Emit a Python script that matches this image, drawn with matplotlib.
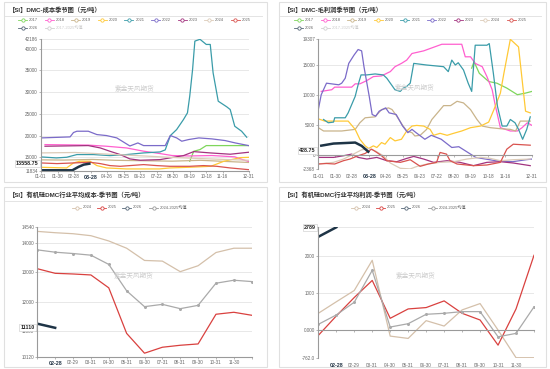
import matplotlib
matplotlib.use("Agg")
import matplotlib.pyplot as plt
from matplotlib.lines import Line2D
from matplotlib.patches import Rectangle

plt.rcParams['font.family'] = ['Liberation Sans', 'Noto Sans CJK SC']

W, H = 550, 369

# ---- top panels: x = day of season (0 = 01-01, 365 = 12-31) ----
day_ticks = [0, 29, 58, 87, 116, 145, 174, 203, 232, 261, 290, 319, 365]
day_labels = ['01-01', '01-30', '02-28', '03-28', '04-26', '05-25', '06-23',
              '07-22', '08-20', '09-19', '10-18', '11-16', '12-31']

# DMC cost
cost_2017_x = [261, 268, 279, 290, 365]
cost_2017_y = [14080, 16380, 16770, 17690, 17690]
cost_2018_x = [7, 51, 83, 115, 150, 180, 209, 230, 260, 300, 340, 355, 365]
cost_2018_y = [17920, 17850, 17800, 17540, 17150, 16400, 15850, 15400, 15300, 15400, 15100, 14400, 14000]
cost_2019_x = [0, 40, 90, 130, 180, 230, 280, 330, 365]
cost_2019_y = [14400, 14350, 14500, 14300, 14200, 14100, 14300, 14000, 13800]
cost_2020_x = [0, 45, 57, 68, 86, 98, 115, 150, 208, 226, 261, 298, 321, 350, 365]
cost_2020_y = [12690, 12540, 13690, 14080, 14080, 13080, 12540, 12310, 12310, 12540, 12700, 12920, 14080, 14920, 14990]
cost_2021_x = [0, 27, 45, 63, 92, 121, 150, 180, 209, 218, 227, 238, 250, 257, 261, 266,
               270, 279, 290, 297, 302, 311, 326, 332, 340, 352, 361]
cost_2021_y = [15080, 14850, 15000, 15620, 15620, 15380, 15620, 16000, 16230, 16700, 20000, 21380, 23690, 25230, 29080, 35230,
               41770, 42186, 41000, 41000, 34460, 27920, 26620, 26000, 22150, 21000, 19620]
cost_2022_x = [0, 51, 57, 63, 83, 98, 115, 133, 156, 170, 180, 218, 227, 238, 247, 259, 277, 300, 323, 341, 364]
cost_2022_y = [19460, 19690, 20700, 21000, 21000, 20230, 20000, 19460, 17600, 18300, 17690, 17690, 20000, 19460, 18700, 19080, 19460, 19230, 18850, 18300, 17700]
cost_2023_x = [7, 83, 104, 121, 139, 156, 174, 209, 226, 250, 268, 297, 332, 364]
cost_2023_y = [17540, 17690, 17150, 16380, 15620, 14620, 14310, 14460, 14850, 15380, 16300, 16000, 15700, 16150]
cost_2024_x = [0, 60, 120, 180, 240, 300, 365]
cost_2024_y = [16000, 16100, 15700, 15300, 14900, 14600, 14300]
cost_2025_x = [0, 28, 57, 86, 104, 121, 139, 156, 180, 203, 226, 261, 285, 308, 332, 364]
cost_2025_y = [13690, 13540, 13690, 13850, 13540, 13080, 12920, 13080, 13310, 13080, 12920, 12920, 13080, 12920, 12540, 12150]
cost_2026_x = [0, 55, 66, 75, 87]
cost_2026_y = [12000, 12000, 12800, 13300, 13558.75]

# DMC gross profit
gp_2017_x = [262, 266, 275, 291, 305, 322, 340, 354, 365]
gp_2017_y = [14500, 15570, 13640, 12270, 11990, 11170, 10070, 10340, 10620]
gp_2018_x = [5, 23, 28, 57, 63, 71, 83, 94, 108, 117, 123, 131, 142, 151, 160, 180, 191, 211, 231, 245,
             251, 260, 268, 280, 288, 297, 302, 311, 328, 340, 348, 357, 365]
gp_2018_y = [10620, 10900, 11330, 11330, 11880, 11880, 12430, 13090, 13200, 13640, 13920, 14740, 15290, 15840, 16940, 17380, 17770, 18480, 18480, 18480,
             16390, 16390, 15290, 14740, 13090, 10890, 8420, 4570, 4020, 4020, 4570, 5390, 4950]
gp_2019_x = [0, 9, 40, 63, 71, 80, 97, 108, 120, 126, 134, 143, 151, 160, 165, 174, 185, 194, 206, 214,
             226, 237, 248, 260, 271, 280, 294, 311, 328, 337, 345, 362]
gp_2019_y = [4570, 4020, 4020, 4290, 5390, 6220, 6380, 7590, 7870, 7590, 6490, 5120, 4020, 3740, 3190, 3300, 4290, 5940, 7320, 8250,
             8250, 8970, 8700, 7590, 5940, 4840, 4570, 4400, 4290, 4020, 5670, 5670]
gp_2020_x = [0, 11, 40, 51, 63, 71, 80, 86, 94, 100, 108, 114, 123, 131, 142, 151, 160, 168, 180, 191,
             197, 208, 220, 231, 245, 260, 277, 291, 300, 311, 317, 328, 342, 354, 362]
gp_2020_y = [6050, 5670, 5670, 5670, 4290, 2640, 1540, 1100, 1540, 1270, 2090, 1820, 2920, 2370, 2640, 4020, 4840, 4950, 4840, 4290,
             3300, 3630, 3300, 3630, 4020, 4570, 4840, 5500, 7590, 10340, 13640, 19307, 18040, 7320, 7040]
gp_2021_x = [9, 17, 26, 28, 46, 51, 63, 68, 73, 83, 97, 111, 117, 123, 131, 140, 145, 151, 157, 163, 185,
             214, 222, 228, 234, 239, 248, 256, 262, 268, 288, 292, 299, 306, 314, 322, 328, 336, 342, 349, 356, 362]
gp_2021_y = [5940, 5390, 5500, 6220, 6220, 7040, 9790, 11720, 13370, 13370, 13530, 13370, 12820, 11990, 10890, 10620, 11170, 11450, 11990, 15290, 15020,
             14740, 13920, 15840, 15020, 15400, 14190, 11990, 10620, 18320, 18320, 18590, 13640, 8140, 4840, 4840, 5940, 5390, 4290, 2640, 4290, 6380]
gp_2022_x = [0, 5, 14, 35, 40, 46, 52, 61, 68, 74, 78, 87, 92, 98, 104, 115, 121, 133, 144, 153, 160,
             167, 182, 193, 210, 228, 240, 251, 269, 303, 332, 355, 365]
gp_2022_y = [7590, 10070, 11990, 11720, 11990, 12820, 15290, 16670, 17600, 17380, 14740, 9790, 6770, 6490, 7320, 7870, 7040, 6770, 4840, 3740, 4290,
             3740, 2640, 3300, 2640, 1270, 1400, 720, -390, -940, -1100, -770, -660]
gp_2023_x = [0, 26, 43, 57, 68, 83, 100, 117, 134, 151, 163, 180, 197, 220, 242, 265, 288, 311, 333, 362]
gp_2023_y = [-385, -385, -110, 165, -385, -660, -385, -935, -1100, -550, -220, -660, -1210, -935, -1210, -1760, -1210, -1100, -1320, -1760]
gp_2024_x = [0, 26, 43, 60, 74, 86, 97, 111, 123, 140, 157, 169, 186, 208, 231, 254, 277, 294, 311, 333, 362]
gp_2024_y = [-1485, -1210, -660, 165, 880, 1100, 715, -110, -1320, -2200, -2310, -1870, -1485, -1210, -1100, -660, -385, -550, -935, -770, -660]
gp_2025_x = [0, 14, 28, 43, 54, 68, 80, 91, 100, 108, 117, 140, 151, 157, 174, 188, 202, 208, 219, 225,
             237, 265, 288, 311, 322, 333, 362]
gp_2025_y = [-1485, -1400, -1485, -935, -660, -110, 275, 990, 440, -110, -935, -1210, -935, -770, -1870, -1485, -1210, 440, 165, -935,
             -1485, -1760, -1650, -1210, 990, 1815, 1650]
gp_2026_x = [3, 26, 63, 74, 87]
gp_2026_y = [1540, 1925, 2090, 1540, 428.75]

# ---- bottom panels: monthly ----
months = ['01-31', '02-28', '02-29', '03-31', '04-30', '05-31', '06-30',
          '07-31', '08-31', '09-30', '10-31', '11-30', '12-31']
avgcost_2024 = [14381, 14336, 14302, 14235, 14056, 13810, 13395, 13373, 13015, 13216, 13664, 13810, 13810]
avgcost_2025 = [13115, 12959, 12936, 12903, 12466, 10921, 10249, 10451, 10518, 10563, 11570, 11637, 11536]
avgcost_mean = [13754, 13675, 13630, 13574, 13261, 12365, 11828, 11906, 11760, 11872, 12623, 12724, 12679]
avgcost_2026 = [11250, 11110]
avgprof_2024 = [447, 760, 1068, 1890, -174, -237, 247, 100, 539, 712, -9, -762, -762]
avgprof_2025 = [-155, 374, 877, 1342, 311, 566, 603, 785, 447, 265, -420, 566, 2027]
avgprof_mean = [146, 402, 749, 1616, 73, 164, 420, 447, 493, 493, -192, -100, 621]
avgprof_2026 = [2530, 2789]

colors = {'2017': '#7fd65c', '2018': '#ff5fcf', '2019': '#c9b48b', '2020': '#ffc936',
          '2021': '#3a9ca9', '2022': '#7b6bc9', '2023': '#a2337f', '2024': '#dccbb8',
          '2025': '#d9534f', '2026': '#1e3446'}

fig = plt.figure(figsize=(5.5, 3.69), dpi=100)


def fx(x):
    return x / W


def fy(y):
    return 1 - y / H


def panel(l, t, r, b, title):
    fig.add_artist(Rectangle((fx(l), fy(b)), (r - l) / W, (b - t) / H,
                             fill=False, ec='#e0e0e0', lw=0.8))
    fig.text(fx(l + 5), fy(t + 7.5), title, fontsize=4.5, fontweight='bold',
             color='#333333', va='center')
    fig.add_artist(Line2D([fx(l + 1), fx(r - 5)], [fy(t + 14)] * 2, color='#e4e4e4', lw=0.7))


def leg_item(x, y, col, lab, tcol='#666666'):
    fig.add_artist(Line2D([fx(x), fx(x + 9)], [fy(y)] * 2, color=col, lw=0.6))
    fig.add_artist(Line2D([fx(x + 4.5)], [fy(y)], marker='o', ms=2.4, mfc='white',
                          mec=col, mew=0.6))
    fig.text(fx(x + 11), fy(y), lab, fontsize=3, color=tcol, va='center')


def make_ax(l, t, r, b):
    ax = fig.add_axes([fx(l), fy(b), (r - l) / W, (b - t) / H])
    ax.set_facecolor('none')
    for s in ['top', 'right']:
        ax.spines[s].set_visible(False)
    for s in ['left', 'bottom']:
        ax.spines[s].set_color('#9a9a9a')
        ax.spines[s].set_linewidth(0.8)
    ax.tick_params(labelsize=3.3, labelcolor='#666666', color='#9a9a9a',
                   length=1.5, width=0.5, pad=0.8)
    ax.grid(axis='y', color='#e8e8e8', lw=0.7)
    ax.set_axisbelow(True)
    return ax


def y_pointer(ax, v, s, dy=0):
    ax.annotate(s, (-0.012, v), xycoords=ax.get_yaxis_transform(), xytext=(0, dy),
                textcoords='offset points', ha='right', va='center',
                fontsize=3.9, fontweight='bold', color='#222222', zorder=10,
                annotation_clip=False,
                bbox=dict(boxstyle='square,pad=0.2', fc='white', ec='#c8c8c8', lw=0.4))


def x_pointer(ax, x, s, y=-0.03):
    ax.text(x, y, s, transform=ax.get_xaxis_transform(), ha='center', va='top',
            fontsize=3.9, fontweight='bold', color='#223344', zorder=10, clip_on=False,
            bbox=dict(boxstyle='square,pad=0.2', fc='white', ec='none'))


def watermark(ax):
    ax.text(0.45, 0.62, '紫金天风期货', transform=ax.transAxes, fontsize=4.8,
            color='#cccccc', ha='center', va='center')


# panels and titles
panel(4, 2, 267, 182, '【SI】DMC-成本季节图（元/吨）')
panel(279, 2, 546, 182, '【SI】DMC-毛利润季节图（元/吨）')
panel(4, 187, 267, 367, '【SI】有机硅DMC行业平均成本-季节图（元/吨）')
panel(279, 187, 546, 367, '【SI】有机硅DMC行业平均利润-季节图（元/吨）')

years = ['2017', '2018', '2019', '2020', '2021', '2022', '2023', '2024', '2025']
for x0 in (18, 294):
    for i, yr in enumerate(years):
        leg_item(x0 + i * 26.6, 20, colors[yr], yr)
    leg_item(x0, 28.3, '#556677', '2026')
    leg_item(x0 + 26.6, 28.3, '#d0d0d0', '2017-2025均值', tcol='#cccccc')

for x0 in (72, 351):
    leg_item(x0, 207.5, '#d4c0aa', '2024')
    leg_item(x0 + 25, 207.5, '#d9413f', '2025')
    leg_item(x0 + 50, 207.5, '#556677', '2026')
    leg_item(x0 + 77, 207.5, '#999999', '2024-2025均值')

# ---- top-left: cost ----
ax1 = make_ax(41, 39.3, 249, 171)
cost = {'2017': (cost_2017_x, cost_2017_y), '2018': (cost_2018_x, cost_2018_y),
        '2019': (cost_2019_x, cost_2019_y), '2020': (cost_2020_x, cost_2020_y),
        '2021': (cost_2021_x, cost_2021_y), '2022': (cost_2022_x, cost_2022_y),
        '2023': (cost_2023_x, cost_2023_y), '2024': (cost_2024_x, cost_2024_y),
        '2025': (cost_2025_x, cost_2025_y)}
for yr, (xs, ys) in cost.items():
    ax1.plot(xs, ys, color=colors[yr], lw=0.9)
ax1.plot(cost_2026_x, cost_2026_y, color=colors['2026'], lw=1.8, solid_capstyle='butt')
ax1.set_xlim(0, 365)
ax1.set_ylim(11834, 42186)
ax1.set_yticks([11834, 15000, 20000, 25000, 30000, 35000, 40000, 42186])
ax1.set_yticklabels(['11834', '15000', '20000', '25000', '30000', '35000', '40000', '42186'])
ax1.set_xticks(day_ticks)
ax1.set_xticklabels(day_labels)
watermark(ax1)
y_pointer(ax1, cost_2026_y[-1], '13558.75')
x_pointer(ax1, cost_2026_x[-1], '03-28')

# ---- top-right: gross profit ----
ax2 = make_ax(318.3, 39.3, 532, 169.3)
gp = {'2017': (gp_2017_x, gp_2017_y), '2018': (gp_2018_x, gp_2018_y),
      '2019': (gp_2019_x, gp_2019_y), '2020': (gp_2020_x, gp_2020_y),
      '2021': (gp_2021_x, gp_2021_y), '2022': (gp_2022_x, gp_2022_y),
      '2023': (gp_2023_x, gp_2023_y), '2024': (gp_2024_x, gp_2024_y),
      '2025': (gp_2025_x, gp_2025_y)}
for yr, (xs, ys) in gp.items():
    ax2.plot(xs, ys, color=colors[yr], lw=0.9)
ax2.plot(gp_2026_x, gp_2026_y, color=colors['2026'], lw=1.8, solid_capstyle='butt')
ax2.set_xlim(0, 365)
ax2.set_ylim(-2368, 19307)
ax2.set_yticks([-2368, 0, 5000, 10000, 15000, 19307])
ax2.set_yticklabels(['-2368', '0', '5000', '10000', '15000', '19307'])
ax2.spines['bottom'].set_position(('data', 0))
ax2.set_xticks(day_ticks)
ax2.tick_params(axis='x', labelbottom=False)
for x, lab in zip(day_ticks, day_labels):
    ax2.text(x, -0.035, lab, transform=ax2.get_xaxis_transform(), ha='center', va='top',
             fontsize=3.3, color='#666666', clip_on=False)
watermark(ax2)
# pointer box sits just above the "0" tick label, as in the source
y_pointer(ax2, gp_2026_y[-1], '428.75', dy=1.6)
x_pointer(ax2, gp_2026_x[-1], '03-28', y=-0.035)

# ---- bottom-left: industry average cost ----
idx = list(range(len(months)))
ax3 = make_ax(37.3, 226.7, 251.7, 357)
ax3.plot(idx, avgcost_2024, color='#d4c0aa', lw=0.9)
ax3.plot(idx, avgcost_2025, color='#d9413f', lw=0.9)
ax3.plot(idx, avgcost_mean, color='#aaaaaa', lw=0.9, marker='o', ms=1.2)
ax3.plot(idx[:len(avgcost_2026)], avgcost_2026, color=colors['2026'], lw=1.8)
ax3.set_xlim(0, 12)
ax3.set_ylim(10120, 14540)
ax3.set_yticks([10120, 11000, 12000, 13000, 14000, 14540])
ax3.set_yticklabels(['10120', '11000', '12000', '13000', '14000', '14540'])
ax3.set_xticks(idx)
ax3.set_xticklabels([''] + months[1:12] + [''])
watermark(ax3)
y_pointer(ax3, avgcost_2026[-1], '11110')
x_pointer(ax3, 1, months[1])

# ---- bottom-right: industry average profit ----
ax4 = make_ax(318.3, 227.3, 534, 357.7)
ax4.plot(idx, avgprof_2024, color='#d4c0aa', lw=0.9)
ax4.plot(idx, avgprof_2025, color='#d9413f', lw=0.9)
ax4.plot(idx, avgprof_mean, color='#aaaaaa', lw=0.9, marker='o', ms=1.2)
ax4.plot(idx[:len(avgprof_2026)], avgprof_2026, color=colors['2026'], lw=1.8)
ax4.set_xlim(0, 12)
ax4.set_ylim(-762, 2789)
ax4.set_yticks([-762, 0, 1000, 2000, 2789])
ax4.set_yticklabels(['-762.0', '0.000', '1000', '2000', '2789'])
ax4.spines['bottom'].set_position(('data', 0))
ax4.set_xticks(idx)
ax4.tick_params(axis='x', labelbottom=False)
for i in idx[2:12]:
    ax4.text(i, -0.04, months[i], transform=ax4.get_xaxis_transform(), ha='center', va='top',
             fontsize=3.3, color='#666666', clip_on=False)
watermark(ax4)
y_pointer(ax4, avgprof_2026[-1], '2789')
x_pointer(ax4, 1, months[1], y=-0.04)

fig.savefig('out.png', dpi=100)
